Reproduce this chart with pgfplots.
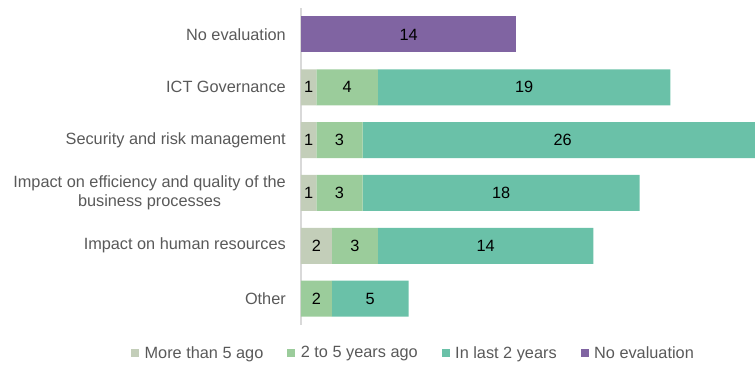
\documentclass[border=0pt]{standalone}
\usepackage{pgfplots}
\usepackage{pgfplotstable}
\pgfplotsset{compat=1.18}
\usepackage{fontspec}
\setmainfont{Liberation Sans}
\definecolor{cOld}{HTML}{C3CEB9}
\definecolor{cMid}{HTML}{9BCC9B}
\definecolor{cNew}{HTML}{6AC1A8}
\definecolor{cNone}{HTML}{8064A2}
\definecolor{txt}{HTML}{595959}
\definecolor{lineGray}{HTML}{D9D9D9}

\pgfplotstableread{
y old mid new none
0 0 0 0 14
1 1 4 19 0
2 1 3 26 0
3 1 3 18 0
4 2 3 14 0
5 0 2 5 0
}\data

\newcommand{\fs}{\fontsize{16.3bp}{18.5bp}\selectfont}

\begin{document}
\begin{tikzpicture}
\useasboundingbox (-301bp,-40bp) rectangle (454bp,325bp);
\begin{axis}[
  at={(0,0)}, anchor=south west,
  scale only axis, width=461.7bp, height=317bp,
  xbar stacked, bar width=36bp,
  xmin=0, xmax=30, ymin=-0.5, ymax=5.5, y dir=reverse,
  hide x axis, axis y line=left,
  y axis line style={draw=lineGray, line width=1.2bp, -},
  ytick={0,1,2,3,4,5},
  yticklabels={No evaluation, ICT Governance, Security and risk management,
    {Impact on efficiency and quality of the\\business processes},
    Impact on human resources, Other},
  major tick length=0pt,
  yticklabel style={align=center, text=txt, font=\fs, inner sep=0pt, xshift=-15bp},
  /pgf/number format/assume math mode=true,
  point meta=explicit,
  nodes near coords={\pgfmathfloatifflags{\pgfplotspointmeta}{0}{}{\pgfmathprintnumber{\pgfplotspointmeta}}},
  every node near coord/.append style={anchor=center, font=\fs, text=black},
  legend style={at={(axis description cs:0.2437,-0.0883)}, anchor=center,
    draw=none, fill=none, font=\fs, text=txt, inner sep=0pt,
    /tikz/every even column/.append style={column sep=22bp}},
  legend columns=-1,
  sq/.style={legend image code/.code={\fill[##1] (0bp,-4bp) rectangle (8bp,4bp);}},
]
\addplot[fill=cOld, draw=none, sq] table[x=old, y=y, meta=old] {\data};
\addplot[fill=cMid, draw=none, sq] table[x=mid, y=y, meta=mid] {\data};
\addplot[fill=cNew, draw=none, sq] table[x=new, y=y, meta=new] {\data};
\addplot[fill=cNone, draw=none, sq] table[x=none, y=y, meta=none] {\data};
\legend{\hspace{3.5bp}More than 5 ago, \hspace{3.5bp}2 to 5 years ago,
  \hspace{3.5bp}In last 2 years, \hspace{3.5bp}No evaluation}
\end{axis}
\end{tikzpicture}
\end{document}
